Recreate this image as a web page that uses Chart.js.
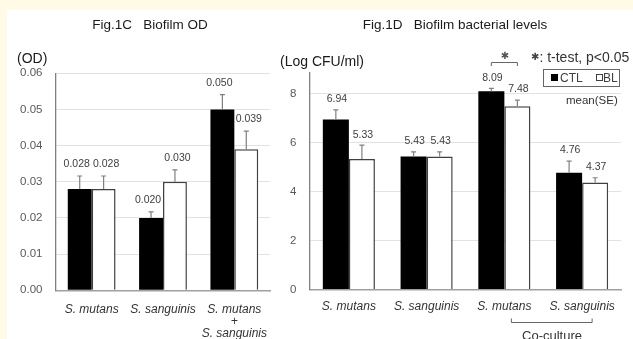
<!DOCTYPE html>
<html lang="en">
<head>
  <meta charset="UTF-8">
  <title>Fig.1C / Fig.1D Biofilm</title>
  <script src="https://cdn.jsdelivr.net/npm/chart.js@4"></script>
  <style>
    body {
      margin: 0;
      background-color: #fffbe6;
      font-family: 'Liberation Sans', Arial, sans-serif;
      overflow: hidden;
    }

    #panel {
      position: absolute;
      left: 7px;
      top: 10px;
      right: 0;
      bottom: 0;
      background-color: #ffffff;
    }

    canvas {
      position: absolute;
      left: 0;
      top: 0;
    }

    .txt {
      position: absolute;
      line-height: 1;
      white-space: pre;
      color: #333333;
    }

    .center {
      transform: translateX(-50%);
    }

    #legendBox {
      position: absolute;
      left: 543px;
      top: 69px;
      width: 75px;
      height: 16px;
      border: 1px solid #666666;
      background: #ffffff;
      font-size: 12px;
      color: #404040;
      white-space: nowrap;
    }

    #legendBox span {
      position: absolute;
      line-height: 1;
    }

    .sq {
      width: 7px;
      height: 7px;
      box-sizing: border-box;
      top: 4px;
    }
  </style>
</head>
<body>
  <div id="panel"></div>
  <canvas id="chartOD" width="633" height="339"></canvas>
  <canvas id="chartCFU" width="633" height="339"></canvas>

  <div class="txt center" style="left:150px; top:18px; font-size:13.5px; color:#1a1a1a;">Fig.1C   Biofilm OD</div>
  <div class="txt center" style="left:455px; top:18px; font-size:13.5px; color:#1a1a1a;">Fig.1D   Biofilm bacterial levels</div>
  <div class="txt" style="left:17px; top:51px; font-size:14px; color:#1a1a1a;">(OD)</div>
  <div class="txt" style="left:280px; top:54px; font-size:14px; color:#1a1a1a;">(Log CFU/ml)</div>
  <div class="txt center" style="left:505px; top:51px; font-size:10px; color:#555; font-family:'DejaVu Sans';">✱</div>
  <div class="txt" style="left:531px; top:50px; font-size:14px;"><span style="font-family:'DejaVu Sans'; font-size:10px; color:#444; vertical-align:2px;">✱</span>: t-test, p&lt;0.05</div>
  <div id="legendBox">
    <span class="sq" style="left:7px; background:#000;"></span>
    <span style="left:16px; top:2px;">CTL</span>
    <span class="sq" style="left:52px; border:1.3px solid #404040;"></span>
    <span style="left:59px; top:2px;">BL</span>
  </div>
  <div class="txt" style="left:563px; top:95px; font-size:11.5px; background:#fff; padding:0 3px;">mean(SE)</div>
  <div class="txt center" style="left:552px; top:329px; font-size:13px;">Co-culture</div>

  <script>
    // Fig.1C - OD
    const odGroups = ['S. mutans', 'S. sanguinis', ['S. mutans', '+', 'S. sanguinis']];
    const odCTL = [0.028, 0.020, 0.050];
    const odCTLse = [0.0036, 0.0017, 0.0041];
    const odBL = [0.028, 0.030, 0.039];
    const odBLse = [0.0036, 0.0033, 0.0050];
    const odTicks = [0, 0.01, 0.02, 0.03, 0.04, 0.05, 0.06];

    // Fig.1D - Log CFU/ml
    const cfuGroups = ['S. mutans', 'S. sanguinis', 'S. mutans', 'S. sanguinis'];
    const cfuCTL = [6.94, 5.43, 8.09, 4.76];
    const cfuCTLse = [0.39, 0.19, 0.12, 0.48];
    const cfuBL = [5.33, 5.43, 7.48, 4.37];
    const cfuBLse = [0.56, 0.19, 0.25, 0.19];
    const cfuTicks = [0, 2, 4, 6, 8];

    const FONT = "'Liberation Sans', Arial, sans-serif";
    Chart.defaults.font.family = FONT;

    // error bars (upper only) + value labels
    const errBars = {
      id: 'errBars',
      afterDatasetsDraw(chart, args, opts) {
        const ctx = chart.ctx;
        const y = chart.scales.y;
        ctx.save();
        chart.data.datasets.forEach((ds, i) => {
          const meta = chart.getDatasetMeta(i);
          meta.data.forEach((bar, j) => {
            const top = y.getPixelForValue(ds.data[j] + ds.se[j]);
            ctx.strokeStyle = '#808080';
            ctx.lineWidth = 1.2;
            ctx.beginPath();
            ctx.moveTo(bar.x, bar.y);
            ctx.lineTo(bar.x, top);
            ctx.moveTo(bar.x - 2.5, top);
            ctx.lineTo(bar.x + 2.5, top);
            ctx.stroke();

            ctx.fillStyle = '#404040';
            ctx.font = '10.5px ' + FONT;
            ctx.textAlign = 'center';
            ctx.textBaseline = 'middle';
            ctx.fillText(ds.data[j].toFixed(opts.decimals), bar.x + opts.shift[i], top - opts.gap);
          });
        });
        ctx.restore();
      }
    };

    // brackets: significance over co-culture S. mutans, and the co-culture bracket under the axis
    const brackets = {
      id: 'brackets',
      afterDraw(chart) {
        const ctx = chart.ctx;
        const x = chart.scales.x;
        const b0 = chart.getDatasetMeta(0).data[2];
        const b1 = chart.getDatasetMeta(1).data[2];
        ctx.save();
        ctx.strokeStyle = '#666666';
        ctx.lineWidth = 1;
        ctx.beginPath();
        ctx.moveTo(b0.x, 66);
        ctx.lineTo(b0.x, 62.5);
        ctx.lineTo(b1.x, 62.5);
        ctx.lineTo(b1.x, 66);
        const l = x.getPixelForTick(2) + 7;
        const r = x.getPixelForTick(3) + 10;
        ctx.moveTo(l, 318.5);
        ctx.lineTo(l, 322.5);
        ctx.lineTo(r, 322.5);
        ctx.lineTo(r, 318.5);
        ctx.stroke();
        ctx.restore();
      }
    };

    function makeChart(id, labels, ctl, ctlSe, bl, blSe, yOpts, area, extra) {
      return new Chart(document.getElementById(id), {
        type: 'bar',
        data: {
          labels: labels,
          datasets: [
            { label: 'CTL', data: ctl, se: ctlSe, backgroundColor: '#000000', borderColor: '#000000', borderWidth: 0 },
            { label: 'BL', data: bl, se: blSe, backgroundColor: '#ffffff', borderColor: '#404040', borderWidth: 1.5 }
          ]
        },
        options: {
          responsive: false,
          animation: false,
          events: [],
          categoryPercentage: 0.67,
          barPercentage: 1.0,
          layout: { padding: { left: 0, right: 633 - area.right, top: area.top, bottom: 0 } },
          plugins: {
            legend: { display: false },
            tooltip: { enabled: false },
            errBars: { decimals: extra.decimals, gap: extra.gap, shift: extra.shift }
          },
          scales: {
            x: {
              grid: { display: false, drawTicks: false },
              border: { color: '#a0a0a0', width: 1.5 },
              ticks: {
                color: '#333333',
                padding: extra.xPad,
                maxRotation: 0,
                autoSkip: false,
                font: { size: 12, style: 'italic', lineHeight: 1 }
              },
              afterFit(scale) { scale.height = 339 - area.bottom; }
            },
            y: Object.assign({
              grid: { color: '#e2e2e2', lineWidth: 1, drawTicks: false },
              border: { color: '#808080', width: 1.3 },
              afterFit(scale) { scale.width = area.left; }
            }, yOpts)
          }
        },
        plugins: extra.plugins
      });
    }

    makeChart('chartOD', odGroups, odCTL, odCTLse, odBL, odBLse, {
      min: odTicks[0],
      max: odTicks[odTicks.length - 1],
      afterBuildTicks(scale) { scale.ticks = odTicks.map(v => ({ value: v })); },
      ticks: { color: '#595959', padding: 13.5, font: { size: 11.5 }, callback: v => v.toFixed(2) }
    }, { left: 56, right: 270, top: 73.3, bottom: 290.3 },
      { decimals: 3, gap: 12, xPad: 13, shift: [-3, 2.5], plugins: [errBars] });

    makeChart('chartCFU', cfuGroups, cfuCTL, cfuCTLse, cfuBL, cfuBLse, {
      min: 0,
      max: 8.86,
      afterBuildTicks(scale) { scale.ticks = cfuTicks.map(v => ({ value: v })); },
      ticks: { color: '#595959', padding: 13.5, font: { size: 11.5 }, callback: v => String(v) }
    }, { left: 310, right: 621, top: 72.4, bottom: 289.5 },
      { decimals: 2, gap: 10.5, xPad: 11, shift: [1, 1], plugins: [errBars, brackets] });
  </script>
</body>
</html>
